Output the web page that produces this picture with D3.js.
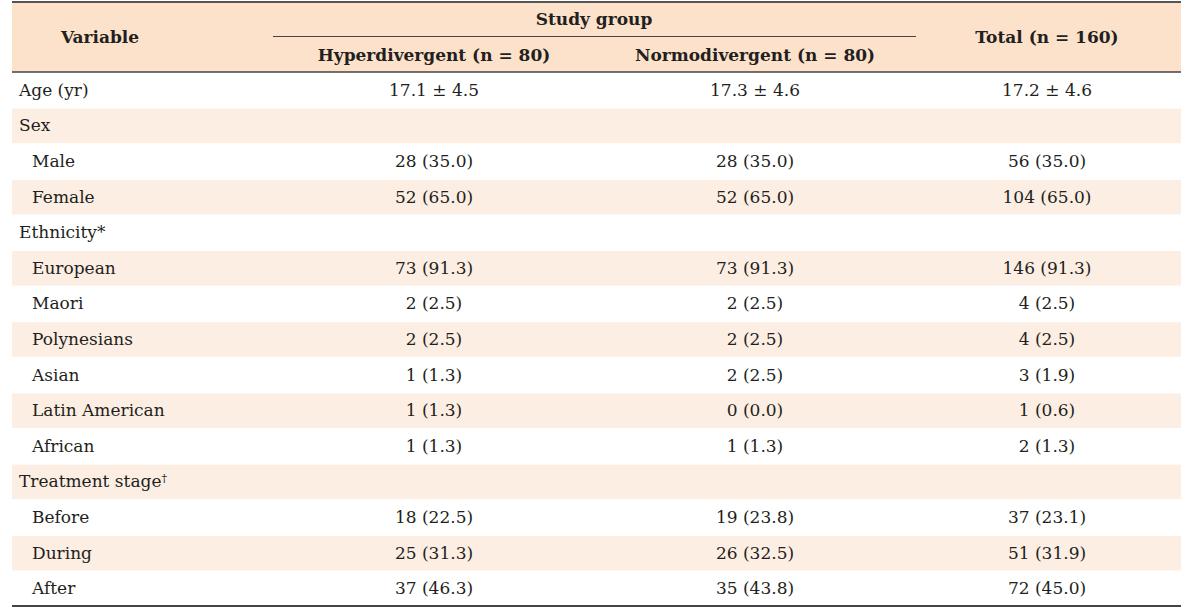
<!DOCTYPE html>
<html>
<head>
<meta charset="utf-8">
<script src="https://cdn.jsdelivr.net/npm/d3@7"></script>
<style>
  body { margin: 0; background: #fff; }
  text { font-family: "DejaVu Serif", serif; fill: #231f20; }
</style>
</head>
<body>
<div id="chart"></div>
<script>
// table content
const columnHeaders = ["Hyperdivergent (n = 80)", "Normodivergent (n = 80)", "Total (n = 160)"];
const groupHeader = "Study group";
const rowLabels = ["Age (yr)", "Sex", "Male", "Female", "Ethnicity*", "European", "Maori",
    "Polynesians", "Asian", "Latin American", "African", "Treatment stage\u2020", "Before", "During", "After"];
const rowIndent = [0, 0, 1, 1, 0, 1, 1, 1, 1, 1, 1, 0, 1, 1, 1];
const hyperValues = ["17.1 ± 4.5", "", "28 (35.0)", "52 (65.0)", "", "73 (91.3)", "2 (2.5)",
    "2 (2.5)", "1 (1.3)", "1 (1.3)", "1 (1.3)", "", "18 (22.5)", "25 (31.3)", "37 (46.3)"];
const normoValues = ["17.3 ± 4.6", "", "28 (35.0)", "52 (65.0)", "", "73 (91.3)", "2 (2.5)",
    "2 (2.5)", "2 (2.5)", "0 (0.0)", "1 (1.3)", "", "19 (23.8)", "26 (32.5)", "35 (43.8)"];
const totalValues = ["17.2 ± 4.6", "", "56 (35.0)", "104 (65.0)", "", "146 (91.3)", "4 (2.5)",
    "4 (2.5)", "3 (1.9)", "1 (0.6)", "2 (1.3)", "", "37 (23.1)", "51 (31.9)", "72 (45.0)"];

const width = 1200, height = 609;
const left = 12, right = 1181;
const headTop = 2, headBottom = 72, tableBottom = 606;
const colCenters = [434, 755, 1047];
const fontSize = 17;

const svg = d3.select("#chart").append("svg")
    .attr("width", width)
    .attr("height", height);

const y = d3.scaleBand()
    .domain(d3.range(rowLabels.length))
    .range([headBottom, tableBottom]);

// header background
svg.append("rect")
    .attr("x", left).attr("y", headTop)
    .attr("width", right - left).attr("height", headBottom - headTop)
    .attr("fill", "#fde2cb");

// alternating shaded rows
svg.selectAll("rect.band")
    .data(d3.range(rowLabels.length).filter(i => i % 2 === 1))
    .join("rect")
    .attr("class", "band")
    .attr("x", left)
    .attr("y", d => y(d) + 1)
    .attr("width", right - left)
    .attr("height", y.bandwidth() - 1)
    .attr("fill", "#fdeee3");

// header text
const head = svg.append("g").style("font-weight", "bold").style("font-size", fontSize + "px");
head.append("text").attr("x", 100).attr("y", 37).attr("dy", "0.35em")
    .attr("text-anchor", "middle").text("Variable");
head.append("text").attr("x", 594).attr("y", 19).attr("dy", "0.35em")
    .attr("text-anchor", "middle").text(groupHeader);
head.selectAll("text.col")
    .data(columnHeaders)
    .join("text")
    .attr("class", "col")
    .attr("x", (d, i) => colCenters[i])
    .attr("y", (d, i) => i < 2 ? 55 : 37)
    .attr("dy", "0.35em")
    .attr("text-anchor", "middle")
    .text(d => d);

// lines
svg.append("line").attr("x1", left).attr("x2", right).attr("y1", headTop).attr("y2", headTop)
    .attr("stroke", "#555").attr("stroke-width", 2);
svg.append("line").attr("x1", 273).attr("x2", 916).attr("y1", 36.5).attr("y2", 36.5)
    .attr("stroke", "#444").attr("stroke-width", 1);
svg.append("line").attr("x1", left).attr("x2", right).attr("y1", headBottom).attr("y2", headBottom)
    .attr("stroke", "#444").attr("stroke-width", 1.5);
svg.append("line").attr("x1", left).attr("x2", right).attr("y1", tableBottom).attr("y2", tableBottom)
    .attr("stroke", "#444").attr("stroke-width", 2);

// body rows
const rows = svg.append("g").style("font-size", fontSize + "px");
rows.selectAll("text.label")
    .data(rowLabels)
    .join("text")
    .attr("class", "label")
    .attr("x", (d, i) => rowIndent[i] ? 32 : 19)
    .attr("y", (d, i) => y(i) + y.bandwidth() / 2)
    .attr("dy", "0.35em")
    .each(function (d) {
        const t = d3.select(this);
        if (d.endsWith("\u2020")) {
            t.text(d.slice(0, -1));
            t.append("tspan").attr("dy", "-0.45em").style("font-size", "11px").text("\u2020");
        } else {
            t.text(d);
        }
    });

[hyperValues, normoValues, totalValues].forEach((vals, c) => {
    rows.selectAll("text.v" + c)
        .data(vals)
        .join("text")
        .attr("class", "v" + c)
        .attr("x", colCenters[c])
        .attr("y", (d, i) => y(i) + y.bandwidth() / 2)
        .attr("dy", "0.35em")
        .attr("text-anchor", "middle")
        .text(d => d);
});
</script>
</body>
</html>
